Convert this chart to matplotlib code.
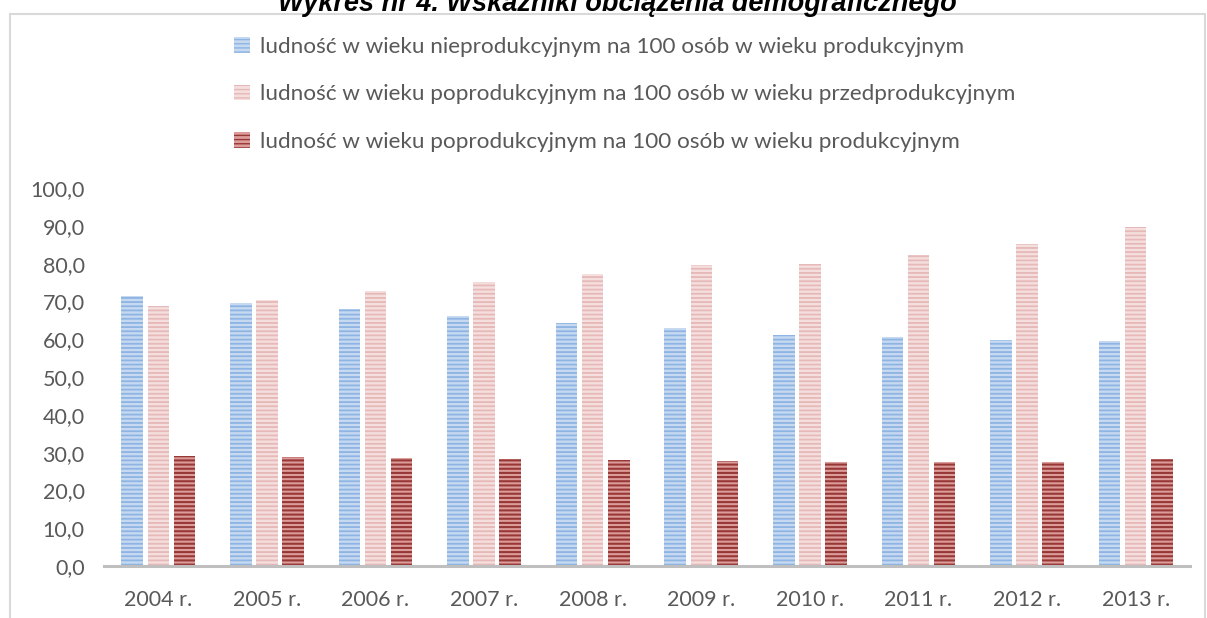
import matplotlib
matplotlib.use("Agg")
import matplotlib.pyplot as plt
import numpy as np
from matplotlib.patches import Rectangle

years = ["2004 r.", "2005 r.", "2006 r.", "2007 r.", "2008 r.",
         "2009 r.", "2010 r.", "2011 r.", "2012 r.", "2013 r."]
nieprod = [71.4, 69.5, 68.0, 66.1, 64.3, 62.9, 61.1, 60.5, 59.8, 59.6]
poprod_przed = [68.8, 70.4, 72.7, 75.1, 77.2, 79.6, 79.9, 82.2, 85.2, 89.8]
poprod_prod = [29.2, 28.9, 28.6, 28.3, 28.0, 27.8, 27.4, 27.4, 27.5, 28.3]

labels = ["ludność w wieku nieprodukcyjnym na 100 osób w wieku produkcyjnym",
          "ludność w wieku poprodukcyjnym na 100 osób w wieku przedprodukcyjnym",
          "ludność w wieku poprodukcyjnym na 100 osób w wieku produkcyjnym"]
title = "Wykres nr 4. Wskaźniki obciążenia demograficznego"

plt.rcParams['font.family'] = ['Lato', 'DejaVu Sans']
W, H = 1207, 618
fig = plt.figure(figsize=(W / 100, H / 100), dpi=100)
fig.patch.set_facecolor("white")

# outer frame
fig.patches.append(Rectangle((10 / W, -0.1), (1205 - 10) / W, (H - 14) / H + 0.1,
                             transform=fig.transFigure, fill=False,
                             edgecolor="#d9d9d9", linewidth=1.5))

ax = fig.add_axes([104 / W, (H - 566) / H, (1190 - 104) / W, (566 - 188) / H])
x = np.arange(len(years))
w = 0.198
off = 0.24
series = [nieprod, poprod_przed, poprod_prod]
styles = [("#c6d9f1", "#8db4e2", 1.3),
          ("#f4dfde", "#e6b8b7", 1.3),
          ("#dc9c9a", "#973836", 1.5)]
handles = []
for i, (vals, (fc, hc, hl)) in enumerate(zip(series, styles)):
    with plt.rc_context({'hatch.linewidth': hl}):
        b = ax.bar(x + (i - 1) * off, vals, width=w, color=fc, edgecolor=hc,
                   linewidth=0, hatch="----", label=labels[i])
    handles.append(b)

ax.set_xlim(-0.5, len(years) - 0.5)
ax.set_ylim(0, 100)
ax.set_yticks(np.arange(0, 101, 10))
ax.set_yticklabels([f"{v:.1f}".replace(".", ",") for v in np.arange(0, 101, 10)])
ax.set_xticks(x)
ax.set_xticklabels(years)
for s in ["top", "right", "left"]:
    ax.spines[s].set_visible(False)
ax.spines["bottom"].set_color("#bfbfbf")
ax.spines["bottom"].set_linewidth(2.2)
ax.tick_params(axis="both", length=0, labelsize=15.5, colors="#595959")
ax.tick_params(axis="y", pad=14)
ax.tick_params(axis="x", pad=17)

leg = fig.legend(handles=handles, labels=labels, loc="upper left",
                 bbox_to_anchor=(234 / W, 1 - 37 / H), frameon=False,
                 fontsize=16.2, labelcolor="#595959", handlelength=0.7,
                 handleheight=0.7, handletextpad=0.45, labelspacing=1.22,
                 borderaxespad=0, borderpad=0)

t = fig.text(617 / W, 1 - 11 / H, title, ha="center", va="baseline",
             fontsize=17, style="italic", weight="bold", color="black",
             family=["Liberation Sans", "DejaVu Sans"])
fig.canvas.draw()
r = fig.canvas.get_renderer()
bw = t.get_window_extent(r).width
t.set_fontsize(17 * 679 / bw)

fig.savefig("out.png", dpi=100)
